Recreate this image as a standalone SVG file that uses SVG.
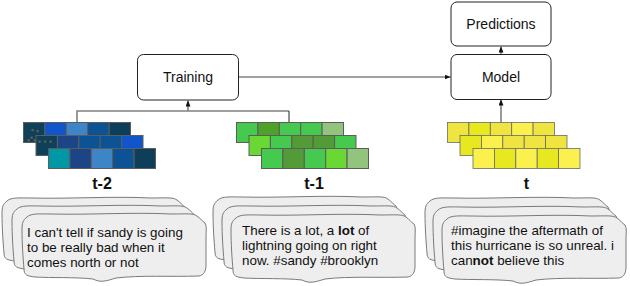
<svg xmlns="http://www.w3.org/2000/svg" width="630" height="286" viewBox="0 0 630 286">
<style>
.box{fill:#fff;stroke:#222;stroke-width:1}
.lbl{font-family:"Liberation Sans",Arial,sans-serif;font-size:14px;fill:#111;text-anchor:middle}
.tl{font-family:"Liberation Sans",Arial,sans-serif;font-size:16px;font-weight:bold;fill:#111;text-anchor:middle}
.cell rect{stroke:#5c5c5c;stroke-width:1}
.ycell rect{stroke:#6a6a6a;stroke-width:0.8}
.bub{fill:#eeeeee;stroke:#7a7a7a;stroke-width:1}
.tw{font-family:"Liberation Sans",Arial,sans-serif;font-size:13.4px;fill:#111}
.gl{fill:none;stroke:#808080;stroke-width:1.6}
.bk{fill:none;stroke:#222;stroke-width:1}
.dot{fill:#6aa84f}
</style>
<defs>
<marker id="ah" markerUnits="userSpaceOnUse" markerWidth="6" markerHeight="5" refX="6" refY="2.5" orient="auto">
<path d="M0,0 L6,2.5 L0,5 Z" fill="#111"/>
</marker>
<path id="bub" d="M6,4 C10,0 20,1 30,1 C70,2 110,-1 150,1 C165,1 172,0 176,3 C180,6 181,8 184,10 C186,13 185,18 185,24 L185,52 C185,58 183,62 178,63 C150,64 120,62 95,65 C85,68 80,70 72,66 C55,64 30,65 14,64 C6,63 3,62 3,56 C2,45 1,30 1,16 C1,10 2,7 6,4 Z"/>
</defs>

<g id="connectors">
<path class="gl" d="M77,122 V111 H289"/>
<path class="bk" d="M289,111 V122"/>
<line class="gl" x1="188" y1="111" x2="188" y2="100.5" marker-end="url(#ah)"/>
<line class="gl" x1="238" y1="77" x2="450.5" y2="77" marker-end="url(#ah)"/>
<line class="gl" x1="501" y1="54" x2="501" y2="46.5" marker-end="url(#ah)"/>
<line class="gl" x1="501" y1="123" x2="501" y2="99.5" marker-end="url(#ah)"/>
</g>

<g id="predictions">
<rect class="box" x="451" y="2" width="100" height="44" rx="6"/>
<text class="lbl" x="501" y="29">Predictions</text>
</g>
<g id="model">
<rect class="box" x="451" y="54.5" width="100" height="45" rx="6"/>
<text class="lbl" x="501" y="82">Model</text>
</g>
<g id="training">
<rect class="box" x="137.5" y="54.5" width="101" height="45.5" rx="6"/>
<text class="lbl" x="188" y="82">Training</text>
</g>

<g id="stack-t-2" class="cell">
<rect x="23.5" y="122.5" width="21.4" height="20" fill="#0e4159"/>
<rect x="44.9" y="122.5" width="21.4" height="20" fill="#1155cc"/>
<rect x="66.3" y="122.5" width="21.4" height="20" fill="#3d85c6"/>
<rect x="87.7" y="122.5" width="21.4" height="20" fill="#0b5394"/>
<rect x="109.1" y="122.5" width="21.4" height="20" fill="#0e3f5a"/>
<rect x="36" y="135.5" width="21.4" height="20" fill="#0e4159"/>
<rect x="57.4" y="135.5" width="21.4" height="20" fill="#1c4587"/>
<rect x="78.8" y="135.5" width="21.4" height="20" fill="#0b5394"/>
<rect x="100.2" y="135.5" width="21.4" height="20" fill="#0b5394"/>
<rect x="121.6" y="135.5" width="21.4" height="20" fill="#1155cc"/>
<rect x="48.5" y="148.5" width="21.4" height="20" fill="#0097a7"/>
<rect x="69.9" y="148.5" width="21.4" height="20" fill="#1c4587"/>
<rect x="91.3" y="148.5" width="21.4" height="20" fill="#3d85c6"/>
<rect x="112.7" y="148.5" width="21.4" height="20" fill="#0b5394"/>
<rect x="134.1" y="148.5" width="21.4" height="20" fill="#0e3f5a"/>
<g style="stroke:none">
<rect class="dot" x="32" y="129.5" width="1.2" height="1.2"/>
<rect class="dot" x="37" y="130.5" width="1.2" height="1.2"/>
<rect class="dot" x="31" y="137" width="1.2" height="1.2"/>
<rect class="dot" x="28" y="139.7" width="1.2" height="1.2"/>
<rect class="dot" x="34" y="139.7" width="1.2" height="1.2"/>
<rect class="dot" x="39" y="141" width="1.2" height="1.2"/>
<rect class="dot" x="44.5" y="141" width="1.2" height="1.2"/>
<rect class="dot" x="50" y="141" width="1.2" height="1.2"/>
</g>
<text class="tl" x="102" y="189">t-2</text>
</g>

<g id="stack-t-1" class="cell">
<rect x="236.5" y="122.5" width="21.4" height="20" fill="#45c94f"/>
<rect x="257.9" y="122.5" width="21.4" height="20" fill="#4ea22a"/>
<rect x="279.3" y="122.5" width="21.4" height="20" fill="#45c94f"/>
<rect x="300.7" y="122.5" width="21.4" height="20" fill="#45c94f"/>
<rect x="322.1" y="122.5" width="21.4" height="20" fill="#93c47d"/>
<rect x="249" y="135.5" width="21.4" height="20" fill="#6ad834"/>
<rect x="270.4" y="135.5" width="21.4" height="20" fill="#45c94f"/>
<rect x="291.8" y="135.5" width="21.4" height="20" fill="#529b36"/>
<rect x="313.2" y="135.5" width="21.4" height="20" fill="#529b36"/>
<rect x="334.6" y="135.5" width="21.4" height="20" fill="#45c94f"/>
<rect x="261.5" y="148.5" width="21.4" height="20" fill="#45c94f"/>
<rect x="282.9" y="148.5" width="21.4" height="20" fill="#529b36"/>
<rect x="304.3" y="148.5" width="21.4" height="20" fill="#45c94f"/>
<rect x="325.7" y="148.5" width="21.4" height="20" fill="#6ad834"/>
<rect x="347.1" y="148.5" width="21.4" height="20" fill="#93c47d"/>
<text class="tl" x="314" y="189">t-1</text>
</g>

<g id="stack-t" class="ycell">
<rect x="447.5" y="122.5" width="21.4" height="20" fill="#f0e440"/>
<rect x="468.9" y="122.5" width="21.4" height="20" fill="#e8e821"/>
<rect x="490.3" y="122.5" width="21.4" height="20" fill="#f0e440"/>
<rect x="511.7" y="122.5" width="21.4" height="20" fill="#faf04e"/>
<rect x="533.1" y="122.5" width="21.4" height="20" fill="#f0e440"/>
<rect x="460" y="135.5" width="21.4" height="20" fill="#e8e821"/>
<rect x="481.4" y="135.5" width="21.4" height="20" fill="#faf04e"/>
<rect x="502.8" y="135.5" width="21.4" height="20" fill="#f0e440"/>
<rect x="524.2" y="135.5" width="21.4" height="20" fill="#f0e440"/>
<rect x="545.6" y="135.5" width="21.4" height="20" fill="#f0e440"/>
<rect x="473" y="148.5" width="21.4" height="20" fill="#faf04e"/>
<rect x="494.4" y="148.5" width="21.4" height="20" fill="#e8e821"/>
<rect x="515.8" y="148.5" width="21.4" height="20" fill="#faf04e"/>
<rect x="537.2" y="148.5" width="21.4" height="20" fill="#e8e821"/>
<rect x="558.6" y="148.5" width="21.4" height="20" fill="#faf04e"/>
<text class="tl" x="526.5" y="189">t</text>
</g>

<g id="tweets-t-2">
<use href="#bub" class="bub" x="1" y="197"/>
<use href="#bub" class="bub" x="11" y="205"/>
<use href="#bub" class="bub" x="21" y="213"/>
<text class="tw" x="27" y="237">I can't tell if sandy is going</text>
<text class="tw" x="27" y="252">to be really bad when it</text>
<text class="tw" x="27" y="267">comes north or not</text>
</g>

<g id="tweets-t-1">
<use href="#bub" class="bub" x="212" y="196"/>
<use href="#bub" class="bub" x="221" y="205"/>
<use href="#bub" class="bub" x="230" y="214"/>
<text class="tw" x="242" y="235">There is a lot, a <tspan font-weight="bold">lot</tspan> of</text>
<text class="tw" x="242" y="250">lightning going on right</text>
<text class="tw" x="242" y="265">now. #sandy #brooklyn</text>
</g>

<g id="tweets-t">
<use href="#bub" class="bub" x="424" y="197"/>
<use href="#bub" class="bub" x="432" y="206"/>
<use href="#bub" class="bub" x="441" y="215"/>
<text class="tw" x="451" y="235">#imagine the aftermath of</text>
<text class="tw" x="451" y="250">this hurricane is so unreal. i</text>
<text class="tw" x="451" y="265">can<tspan font-weight="bold">not</tspan> believe this</text>
</g>
</svg>
